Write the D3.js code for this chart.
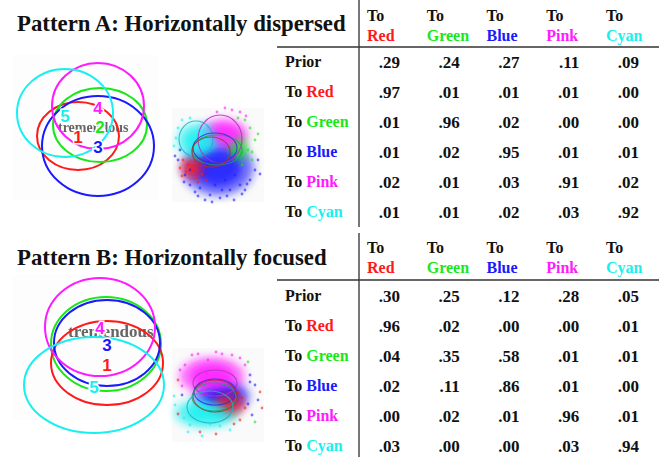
<!DOCTYPE html>
<html>
<head>
<meta charset="utf-8">
<script src="https://cdn.jsdelivr.net/npm/d3@7/dist/d3.min.js"></script>
<style>
body{margin:0;background:#fff;}
text{font-family:"Liberation Serif","Times New Roman",serif;}
</style>
</head>
<body>
<script>
// ---- data ----
var colorNames = ["Red", "Green", "Blue", "Pink", "Cyan"];
var rowNames = ["Prior", "Red", "Green", "Blue", "Pink", "Cyan"];
var titles = ["Pattern A: Horizontally dispersed", "Pattern B: Horizontally focused"];

var tableA = [
  [.29, .24, .27, .11, .09],
  [.97, .01, .01, .01, .00],
  [.01, .96, .02, .00, .00],
  [.01, .02, .95, .01, .01],
  [.02, .01, .03, .91, .02],
  [.01, .01, .02, .03, .92]
];
var tableB = [
  [.30, .25, .12, .28, .05],
  [.96, .02, .00, .00, .01],
  [.04, .35, .58, .01, .01],
  [.02, .11, .86, .01, .00],
  [.00, .02, .01, .96, .01],
  [.03, .00, .00, .03, .94]
];

// gaze ellipses per target (label, cx, cy, rx, ry) in panel units
var gazeA = [
  {id: 1, c: 0, cx: 65, cy: 81, rx: 41, ry: 34},
  {id: 2, c: 1, cx: 87, cy: 70, rx: 47, ry: 37},
  {id: 3, c: 2, cx: 85, cy: 91, rx: 56, ry: 50},
  {id: 4, c: 3, cx: 85, cy: 51, rx: 46, ry: 43},
  {id: 5, c: 4, cx: 52, cy: 58, rx: 48, ry: 44}
];
var gazeB = [
  {id: 2, c: 1, cx: 93, cy: 69, rx: 55, ry: 47},
  {id: 1, c: 0, cx: 94, cy: 88, rx: 56, ry: 42},
  {id: 3, c: 2, cx: 94, cy: 68, rx: 53, ry: 43},
  {id: 4, c: 3, cx: 87, cy: 52, rx: 55, ry: 49},
  {id: 5, c: 4, cx: 81, cy: 110, rx: 70, ry: 48}
];
var labelsA = [
  {id: 1, c: 0, x: 65, y: 82},
  {id: 2, c: 1, x: 87, y: 72},
  {id: 3, c: 2, x: 85, y: 92},
  {id: 4, c: 3, x: 85, y: 53},
  {id: 5, c: 4, x: 52, y: 61}
];
var labelsB = [
  {id: 4, c: 3, x: 87, y: 53},
  {id: 3, c: 2, x: 94, y: 70},
  {id: 1, c: 0, x: 94, y: 90},
  {id: 5, c: 4, x: 81, y: 112}
];

// scatter clouds (density blobs) and fitted ellipses, panel units
var cloudA = [
  {c: 2, cx: 46, cy: 56, rx: 36, ry: 28},
  {c: 0, cx: 22, cy: 56, rx: 13, ry: 11},
  {c: 1, cx: 66, cy: 36, rx: 9, ry: 15},
  {c: 3, cx: 52, cy: 22, rx: 24, ry: 15},
  {c: 4, cx: 27, cy: 29, rx: 22, ry: 18}
];
var fitA = [
  {c: 4, cx: 24, cy: 27, rx: 17, ry: 18},
  {c: 3, cx: 48, cy: 27, rx: 22, ry: 24},
  {c: 1, cx: 45, cy: 38, rx: 25, ry: 15},
  {c: 2, cx: 43, cy: 36, rx: 22, ry: 15},
  {c: 0, cx: 39, cy: 40, rx: 19, ry: 15}
];
var cloudB = [
  {c: 2, cx: 50, cy: 44, rx: 28, ry: 16},
  {c: 0, cx: 55, cy: 52, rx: 18, ry: 13},
  {c: 4, cx: 34, cy: 61, rx: 32, ry: 15},
  {c: 3, cx: 40, cy: 24, rx: 33, ry: 19}
];
var fitB = [
  {c: 3, cx: 43, cy: 31, rx: 22, ry: 13},
  {c: 2, cx: 43, cy: 40, rx: 21, ry: 13},
  {c: 0, cx: 43, cy: 44, rx: 22, ry: 16},
  {c: 1, cx: 42, cy: 45, rx: 22, ry: 14},
  {c: 4, cx: 38, cy: 55, rx: 23, ry: 16}
];

// sparse outlier points [x, y, colour index]
var dotsA = [
  [8,38,2],[6,48,2],[13,63,2],[18,73,2],[23,80,2],[28,76,2],[38,83,2],[48,86,2],[58,78,2],[68,73,2],
  [78,68,2],[83,58,2],[86,48,2],[80,40,1],[73,78,2],[33,88,2],[43,73,2],[53,68,2],[63,63,2],[18,58,2],
  [40,90,2],[55,84,2],[62,88,2],[70,82,2],[75,72,2],[12,70,2],[3,44,2],[88,62,2],[26,84,2],[50,78,2],
  [11,48,0],[16,53,0],[20,58,0],[14,60,0],[24,66,0],[8,56,0],[30,62,0],[10,64,0],[26,70,0],[34,68,0],
  [73,8,1],[78,16,1],[83,28,1],[76,38,1],[70,53,1],[66,6,1],[86,22,1],[80,48,1],
  [60,-2,3],[68,0,3],[53,-4,3],[45,0,3],[74,4,3],
  [6,16,4],[10,8,4],[18,6,4],[4,26,4],[2,34,4]
];
var dotsB = [
  [6,28,0],[10,43,2],[83,33,2],[86,48,2],[78,23,2],[73,13,3],[18,73,4],[28,80,0],[58,78,4],[68,68,0],
  [80,63,2],[3,53,4],[13,13,3],[68,6,3],[76,10,1],[60,3,3],[20,3,3],[8,18,3],[88,40,0],[73,56,0],
  [36,8,3],[50,2,3],[83,70,1],[48,74,4],[38,72,4],[12,66,4],[6,62,0],[66,40,0],[70,46,0],[76,52,2],
  [2,44,4],[16,80,4],[30,84,4],[44,82,0],[62,72,0],[78,30,2],[90,56,0],[26,2,3],[44,0,3],[10,34,3]
];

var palette = ["#ff1a1a", "#18e818", "#1a1aff", "#ff1aff", "#18f0f0"];
var fitPalette = ["#b0302a", "#20a060", "#3030d0", "#b030c0", "#20b0c0"];

var W = 659, H = 457;
var svg = d3.select("body").append("svg").attr("width", W).attr("height", H);

var defs = svg.append("defs");
defs.append("filter").attr("id", "blur").attr("x", "-50%").attr("y", "-50%")
  .attr("width", "200%").attr("height", "200%")
  .append("feGaussianBlur").attr("stdDeviation", 4.5);

var fmt = function(v){ return d3.format(".2f")(v).replace(/^0/, ""); };

function drawPattern(opt){
  var g = svg.append("g");

  // title
  g.append("text").attr("x", 17).attr("y", opt.titleY)
    .attr("font-size", 22.8).attr("font-weight", "bold").attr("fill", "#111")
    .text(opt.title);

  // ---- gaze ellipse panel ----
  var ex = d3.scaleLinear().domain([0, 145]).range([opt.px, opt.px + 145]);
  var ey = d3.scaleLinear().domain([0, 145]).range([opt.py, opt.py + 145]);
  var es = function(v){ return ex(v) - ex(0); };

  g.append("rect").attr("x", ex(0)).attr("y", ey(0)).attr("width", es(145)).attr("height", es(145))
    .attr("fill", "#fdfdfd");

  g.append("text").attr("x", ex(opt.wordX)).attr("y", ey(opt.wordY))
    .attr("font-size", opt.wordSize).attr("font-weight", "bold").attr("fill", "#555")
    .attr("opacity", 0.9).text("tremendous");

  g.selectAll("ellipse.gaze").data(opt.gaze).enter().append("ellipse")
    .attr("class", "gaze")
    .attr("cx", function(d){ return ex(d.cx); })
    .attr("cy", function(d){ return ey(d.cy); })
    .attr("rx", function(d){ return es(d.rx); })
    .attr("ry", function(d){ return es(d.ry); })
    .attr("fill", "none")
    .attr("stroke", function(d){ return palette[d.c]; })
    .attr("stroke-width", 2);

  g.selectAll("text.num").data(opt.labels).enter().append("text")
    .attr("class", "num")
    .attr("x", function(d){ return ex(d.x); })
    .attr("y", function(d){ return ey(d.y); })
    .attr("dy", "0.36em")
    .attr("text-anchor", "middle")
    .style("font-family", "'Liberation Sans', Arial, sans-serif")
    .attr("font-size", 17).attr("font-weight", "bold")
    .attr("fill", function(d){ return palette[d.c]; })
    .attr("stroke", "#fff").attr("stroke-width", 3).attr("paint-order", "stroke")
    .text(function(d){ return d.id; });

  // ---- scatter panel ----
  var sx = d3.scaleLinear().domain([0, 92]).range([opt.sx, opt.sx + 92]);
  var sy = d3.scaleLinear().domain([0, 92]).range([opt.sy, opt.sy + 92]);
  var ss = function(v){ return sx(v) - sx(0); };

  g.append("rect").attr("x", sx(0)).attr("y", sy(-4)).attr("width", ss(92)).attr("height", ss(94))
    .attr("fill", "#fafafa");

  g.selectAll("ellipse.cloud").data(opt.cloud).enter().append("ellipse")
    .attr("class", "cloud")
    .attr("cx", function(d){ return sx(d.cx); })
    .attr("cy", function(d){ return sy(d.cy); })
    .attr("rx", function(d){ return ss(d.rx); })
    .attr("ry", function(d){ return ss(d.ry); })
    .attr("fill", function(d){ return palette[d.c]; })
    .attr("opacity", 0.6)
    .attr("filter", "url(#blur)");

  g.selectAll("ellipse.core").data(opt.cloud).enter().append("ellipse")
    .attr("class", "core")
    .attr("cx", function(d){ return sx(d.cx); })
    .attr("cy", function(d){ return sy(d.cy); })
    .attr("rx", function(d){ return ss(d.rx) * 0.65; })
    .attr("ry", function(d){ return ss(d.ry) * 0.65; })
    .attr("fill", function(d){ return palette[d.c]; })
    .attr("opacity", 0.8)
    .attr("filter", "url(#blur)");

  g.selectAll("circle.dot").data(opt.dots).enter().append("circle")
    .attr("class", "dot")
    .attr("cx", function(d){ return sx(d[0]); })
    .attr("cy", function(d){ return sy(d[1]); })
    .attr("r", 1.4)
    .attr("fill", function(d){ return palette[d[2]]; })
    .attr("opacity", 0.6);

  g.selectAll("ellipse.fit").data(opt.fit).enter().append("ellipse")
    .attr("class", "fit")
    .attr("cx", function(d){ return sx(d.cx); })
    .attr("cy", function(d){ return sy(d.cy); })
    .attr("rx", function(d){ return ss(d.rx); })
    .attr("ry", function(d){ return ss(d.ry); })
    .attr("fill", "none")
    .attr("stroke", function(d){ return fitPalette[d.c]; })
    .attr("stroke-width", 1.1)
    .attr("opacity", 0.85);

  // ---- table ----
  var col = d3.scaleLinear().domain([0, 4]).range([367, 606]);
  var row = d3.scaleLinear().domain([0, 5]).range([opt.rowTop, opt.rowTop + 150]);

  g.append("line").attr("x1", 359).attr("x2", 359).attr("y1", opt.vTop).attr("y2", opt.vBot)
    .attr("stroke", "#777").attr("stroke-width", 2);
  g.append("line").attr("x1", 277).attr("x2", W).attr("y1", opt.hY).attr("y2", opt.hY)
    .attr("stroke", "#333").attr("stroke-width", 1.5);

  var head = g.selectAll("g.head").data(colorNames).enter().append("g").attr("class", "head");
  head.append("text")
    .attr("x", function(d, i){ return col(i); })
    .attr("y", opt.headY)
    .attr("font-size", 16).attr("font-weight", "bold").attr("fill", "#111")
    .text("To");
  head.append("text")
    .attr("x", function(d, i){ return col(i); })
    .attr("y", opt.headY + 20)
    .attr("font-size", 16).attr("font-weight", "bold")
    .attr("fill", function(d, i){ return palette[i]; })
    .text(function(d){ return d; });

  var lab = g.selectAll("text.rowlab").data(rowNames).enter().append("text")
    .attr("class", "rowlab")
    .attr("x", 285)
    .attr("y", function(d, i){ return row(i); })
    .attr("dy", "0.33em")
    .attr("font-size", 16).attr("font-weight", "bold").attr("fill", "#111");
  lab.each(function(d, i){
    var t = d3.select(this);
    if (i === 0) { t.text(d); return; }
    t.append("tspan").text("To ");
    t.append("tspan").attr("fill", palette[i - 1]).text(d);
  });

  var rows = g.selectAll("g.vrow").data(opt.table).enter().append("g").attr("class", "vrow");
  rows.selectAll("text").data(function(d, i){ return d.map(function(v){ return {v: v, r: i}; }); })
    .enter().append("text")
    .attr("x", function(d, j){ return col(j) + 33; })
    .attr("y", function(d){ return row(d.r); })
    .attr("dy", "0.33em")
    .attr("text-anchor", "end")
    .attr("font-size", 17).attr("font-weight", "bold").attr("fill", "#111")
    .text(function(d){ return fmt(d.v); });
}

drawPattern({
  title: titles[0], titleY: 31,
  px: 13, py: 55, wordX: 45, wordY: 77, wordSize: 14,
  gaze: gazeA, labels: labelsA,
  sx: 172, sy: 112, cloud: cloudA, fit: fitA, dots: dotsA,
  table: tableA, rowTop: 62, headY: 21, hY: 47, vTop: 0, vBot: 227
});
drawPattern({
  title: titles[1], titleY: 265,
  px: 13, py: 275, wordX: 55, wordY: 62, wordSize: 17,
  gaze: gazeB, labels: labelsB,
  sx: 172, sy: 352, cloud: cloudB, fit: fitB, dots: dotsB,
  table: tableB, rowTop: 296, headY: 253, hY: 280, vTop: 233, vBot: H
});
</script>
</body>
</html>
